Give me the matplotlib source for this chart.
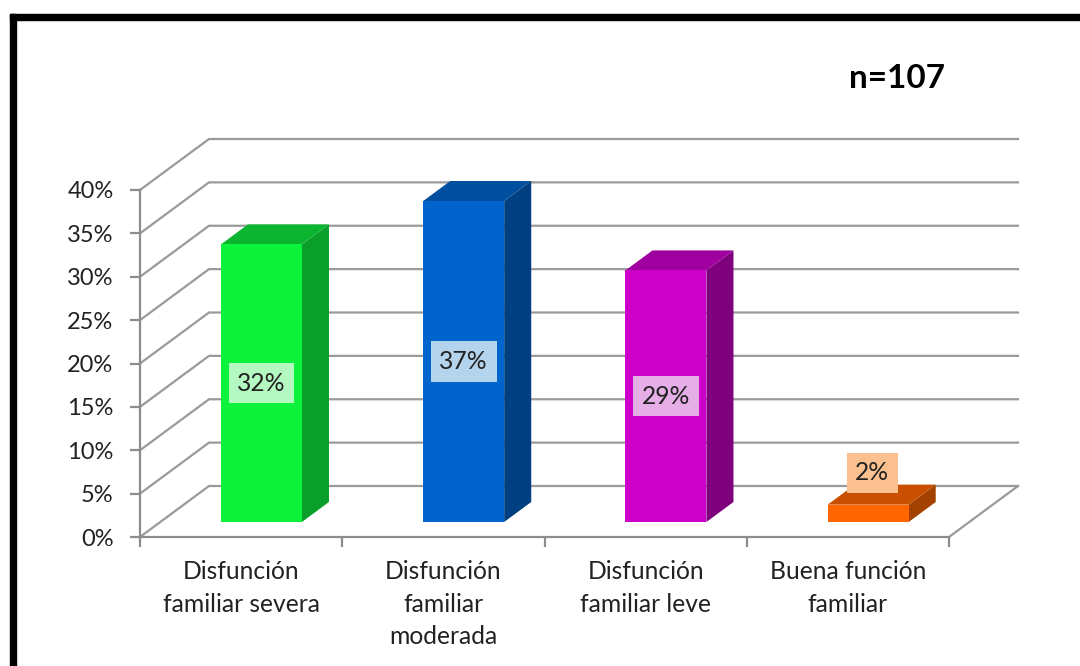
import matplotlib
matplotlib.use("Agg")
import matplotlib.pyplot as plt
from matplotlib.patches import Polygon, Rectangle
from matplotlib.transforms import ScaledTranslation

categories = ["Disfunción\nfamiliar severa", "Disfunción\nfamiliar\nmoderada",
              "Disfunción\nfamiliar leve", "Buena función\nfamiliar"]
values = [32, 37, 29, 2]
labels = ["32%", "37%", "29%", "2%"]
front_colors = ["#0DF23B", "#0064CC", "#CC00C8", "#FF6600"]
side_colors = ["#0A9E2A", "#003F80", "#7E007C", "#A34200"]
top_colors = ["#0BB52F", "#00509F", "#A000A0", "#C85000"]
label_bg = ["#B4F8C2", "#B4D4EE", "#E6AEE6", "#FBC08F"]
yticks = list(range(0, 45, 5))

W, H = 1080, 666
L, R, Y0, Y40 = 140, 949, 537, 190
plt.rcParams["font.family"] = ["Lato", "DejaVu Sans"]
fig = plt.figure(figsize=(W / 100, H / 100), dpi=100, facecolor="white")

fig.add_artist(Rectangle((10 / W, 0), 6 / W, 1 - 14 / H, transform=fig.transFigure, color="black"))
fig.add_artist(Rectangle((10 / W, 1 - 20 / H), 1 - 10 / W, 6 / H, transform=fig.transFigure, color="black"))

ax = fig.add_axes([L / W, 1 - Y0 / H, (R - L) / W, (Y0 - Y40) / H])
ax.set_xlim(0, 4)
ax.set_ylim(0, 40)
ax.patch.set_visible(False)
for s in ax.spines.values():
    s.set_visible(False)

cat_px = (R - L) / 4
pct_px = (Y0 - Y40) / 40
DX, DY = 69 / cat_px, 51 / pct_px     # full depth of the floor


def proj(x, y, d):
    """Oblique projection: d is the depth fraction, 0 = front, 1 = back."""
    return (x + DX * d, y + DY * d)


grid = "#9A9A9A"
for t in yticks:
    ax.plot(*zip(proj(0, t, 0), proj(0, t, 1), proj(4, t, 1)), color=grid, lw=1.6,
            clip_on=False, zorder=1, solid_joinstyle="miter")
ax.plot(*zip(proj(4, 0, 0), proj(4, 0, 1)), color=grid, lw=1.6, clip_on=False, zorder=1)

ax.plot([0, 0], [0, 40], color="#8C8C8C", lw=1.6, clip_on=False, zorder=2)
ax.plot([0, 4], [0, 0], color="#8C8C8C", lw=1.6, clip_on=False, zorder=2)

ax.set_yticks(yticks)
ax.set_yticklabels([f"{t}%" for t in yticks], fontsize=17, color="#222222")
shift = ScaledTranslation(0, -1.5 / 72, fig.dpi_scale_trans)
for lab in ax.get_yticklabels():
    lab.set_transform(lab.get_transform() + shift)
ax.set_xticks(range(5))
ax.set_xticklabels([])
ax.tick_params(axis="y", length=7, width=1.6, color="#8C8C8C", pad=12)
ax.tick_params(axis="x", length=7, width=1.6, color="#8C8C8C")

d0, d1 = 15 / 51, 35 / 51
half = 40.5 / cat_px
for i, v in enumerate(values):
    c = i + 0.5
    x0, x1 = c - half, c + half
    ax.add_patch(Polygon([proj(x1, 0, d0), proj(x1, 0, d1), proj(x1, v, d1), proj(x1, v, d0)],
                         fc=side_colors[i], ec="none", clip_on=False, zorder=3))
    ax.add_patch(Polygon([proj(x0, v, d0), proj(x1, v, d0), proj(x1, v, d1), proj(x0, v, d1)],
                         fc=top_colors[i], ec="none", clip_on=False, zorder=3))
    ax.add_patch(Polygon([proj(x0, 0, d0), proj(x1, 0, d0), proj(x1, v, d0), proj(x0, v, d0)],
                         fc=front_colors[i], ec="none", clip_on=False, zorder=4))
    lx, ly = proj(c, v / 2, d0)
    if v < 5:
        ly = v + 5.4
        lx = lx + 0.02
    ax.text(lx, ly, labels[i], ha="center", va="center", fontsize=17.7, color="#222222", zorder=5,
            bbox=dict(boxstyle="square,pad=0.35", fc=label_bg[i], ec="none"))
    ax.text(c, -2.7, categories[i], ha="center", va="top", fontsize=17.7, color="#222222",
            linespacing=1.5, clip_on=False)

fig.text(897 / W, 1 - 79 / H, "n=107", ha="center", va="center", fontsize=24, fontweight="bold", color="black")
fig.savefig("out.png", dpi=100)
